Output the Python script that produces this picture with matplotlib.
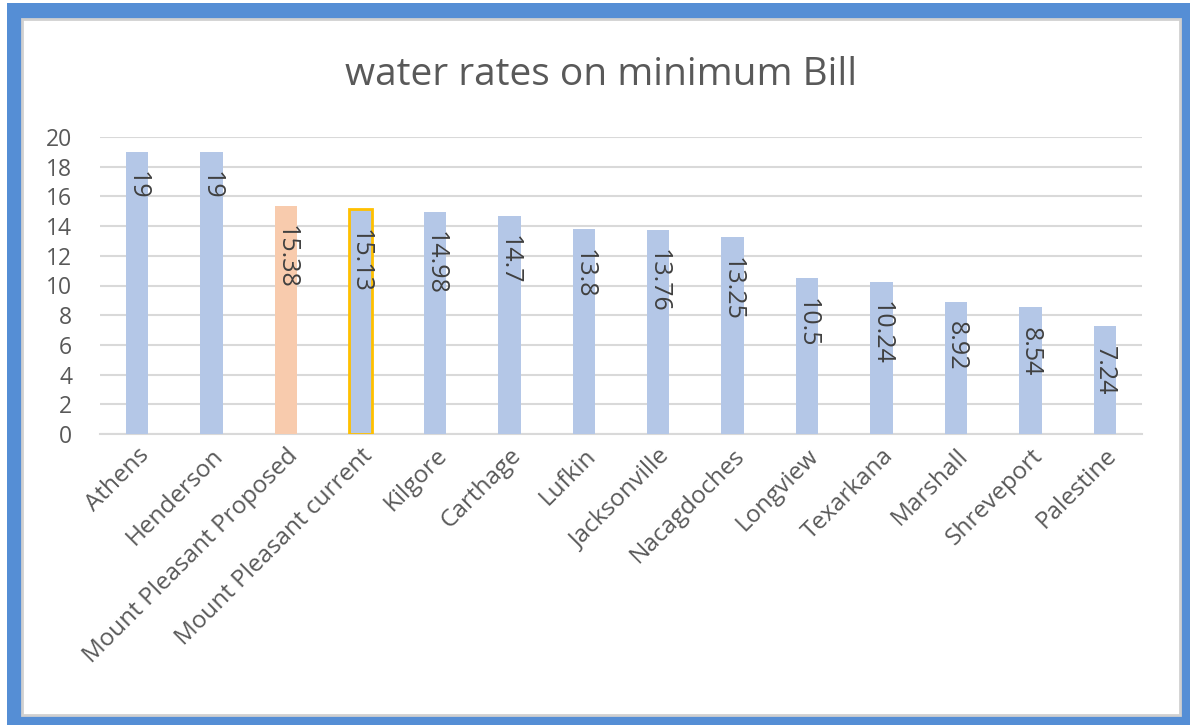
import matplotlib
matplotlib.use("Agg")
import matplotlib.pyplot as plt
from matplotlib.patches import Rectangle

cities = ["Athens", "Henderson", "Mount Pleasant Proposed", "Mount Pleasant current",
          "Kilgore", "Carthage", "Lufkin", "Jacksonville", "Nacagdoches", "Longview",
          "Texarkana", "Marshall", "Shreveport", "Palestine"]
rates = [19, 19, 15.38, 15.13, 14.98, 14.7, 13.8, 13.76, 13.25, 10.5, 10.24, 8.92, 8.54, 7.24]
labels = ["19", "19", "15.38", "15.13", "14.98", "14.7", "13.8", "13.76", "13.25",
          "10.5", "10.24", "8.92", "8.54", "7.24"]

W, H = 1190, 725
fig = plt.figure(figsize=(W / 100, H / 100), dpi=100)
plt.rcParams['font.family'] = ['Open Sans', 'DejaVu Sans']

def px_rect(x0, y0, x1, y1, **kw):
    # rectangle in pixel coordinates measured from the top-left corner
    r = Rectangle((x0 / W, 1 - y1 / H), (x1 - x0) / W, (y1 - y0) / H,
                  transform=fig.transFigure, **kw)
    fig.patches.append(r)

# blue frame around the chart
px_rect(7, 3, 1190, 725, facecolor="#558ED5", edgecolor="none", zorder=-10)
px_rect(22, 19, 1180, 715, facecolor="white", edgecolor="#D0D0D0", linewidth=2, zorder=-9)

ax = fig.add_axes([100 / W, 1 - 434 / H, (1142 - 100) / W, (434 - 137) / H])
ax.set_facecolor("none")
ax.set_zorder(1)

fills = ["#B4C7E7"] * len(cities)
edges = ["none"] * len(cities)
fills[2] = "#F8CBAD"
edges[3] = "#FFC000"

x = range(len(cities))
bars = ax.bar(x, rates, width=0.3, color=fills, edgecolor=edges, linewidth=2, zorder=3)

for xi, v, t in zip(x, rates, labels):
    ax.annotate(t, (xi, v), xytext=(0, -14), textcoords="offset points",
                rotation=270, ha="center", va="top", fontsize=18, color="#404040", zorder=4)

ax.set_xlim(-0.5, len(cities) - 0.5)
ax.set_ylim(0, 20)
ax.set_yticks(range(0, 21, 2))
ax.yaxis.grid(True, color="#D9D9D9", linewidth=1.5, zorder=0)
ax.set_axisbelow(True)
for s in ["top", "right", "left"]:
    ax.spines[s].set_visible(False)
ax.spines["bottom"].set_color("#D9D9D9")
ax.spines["bottom"].set_linewidth(1.5)
ax.tick_params(axis="y", length=0, labelsize=16.5, colors="#595959", pad=20)
ax.tick_params(axis="x", length=0, labelsize=17.5, colors="#595959", pad=7)
ax.set_xticks(list(x))
ax.set_xticklabels(cities, rotation=45, ha="right", rotation_mode="anchor")

fig.text(601 / W, 1 - 75 / H, "water rates on minimum Bill", ha="center", va="center",
         fontsize=28, color="#595959")

fig.savefig("out.png", dpi=100)
